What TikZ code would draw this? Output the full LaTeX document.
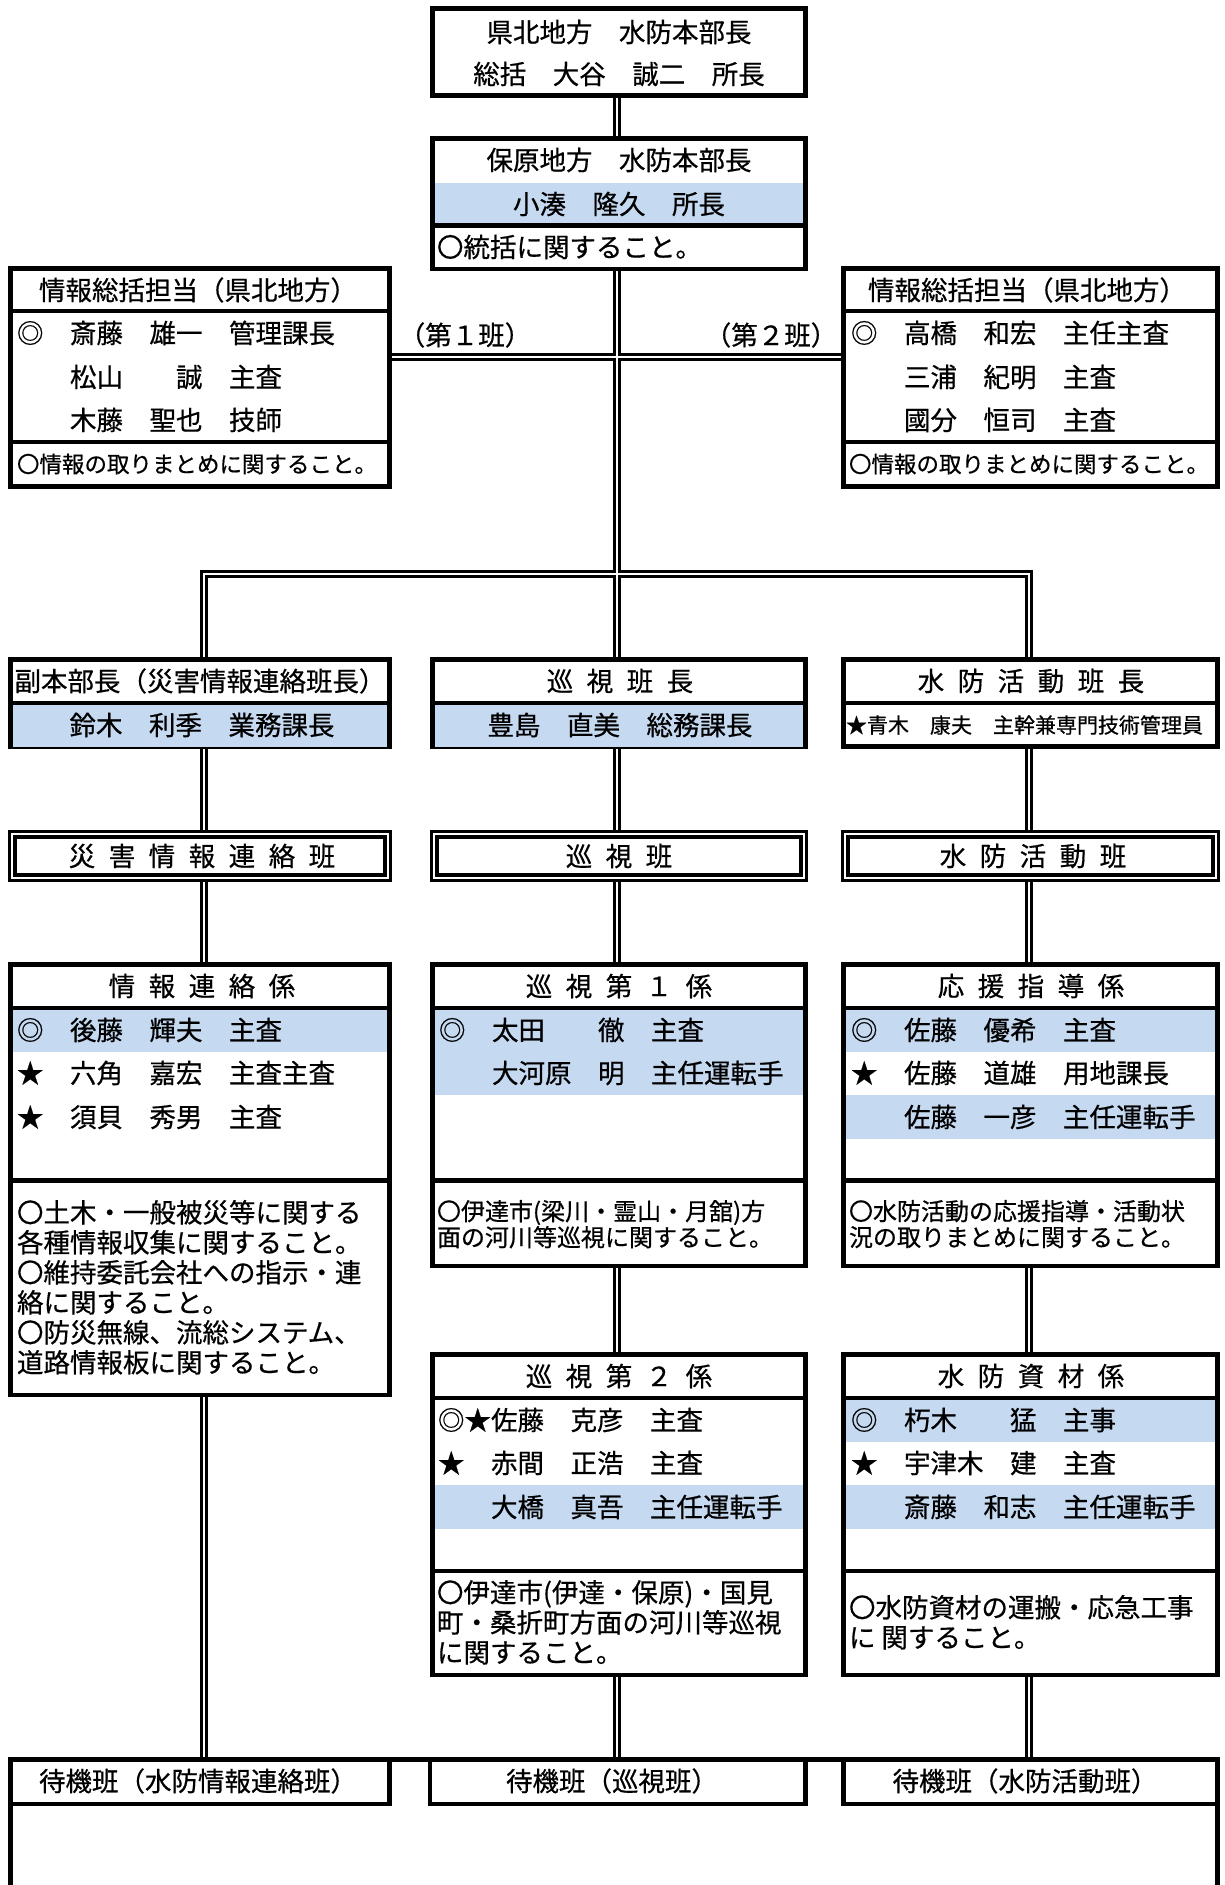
\documentclass[tikz,border=0pt]{standalone}
\usepackage{fontspec}
\setmainfont{Noto Sans CJK JP}[FakeBold=0.6]
\usetikzlibrary{calc}
\pgfdeclarelayer{bg}
\pgfsetlayers{bg,main}
\definecolor{cellblue}{RGB}{197,217,241}
\newcommand\gp{\hspace{13.5pt}}
\newcommand\fs[2]{\fontsize{#1}{#2}\selectfont}
\newcommand\mkbox[5]{\node[frame, minimum width={(#4-#2)*1pt}, minimum height={(#5-#3)*1pt}] (#1) at ({(#2+#4)/2},{(#3+#5)/2}) {};}
\newcommand\mkdbox[5]{\node[dframe, minimum width={(#4-#2)*1pt}, minimum height={(#5-#3)*1pt}] (#1) at ({(#2+#4)/2},{(#3+#5)/2}) {};}
\newcommand\bluerow[4]{\fill[cellblue] ({#1+2.25},#2) rectangle ({#3-2.25},#4);}
\begin{document}
\begin{tikzpicture}[x=1pt,y=-1pt,
  frame/.style={draw=black, line width=4.5pt, fill=white, rectangle, inner sep=0pt, outer sep=0pt},
  dframe/.style={draw=black, double=white, line width=3.2pt, double distance=2.3pt, fill=white, rectangle, inner sep=0pt, outer sep=0pt},
  txt/.style={inner sep=0pt, outer sep=0pt, font=\fs{26.5}{30}},
  lt/.style={txt, anchor=west},
  small/.style={font=\fs{22.5}{26}},
  para/.style={inner sep=0pt, outer sep=0pt, anchor=north west, align=left},
  sepl/.style={line width=4.5pt},
  conb/.style={line width=8.5pt, black},
  conw/.style={line width=2.5pt, white}]
\useasboundingbox (0,0) rectangle (1224,1885);

\coordinate (cL) at (204,0);
\coordinate (cM) at (617,0);
\coordinate (cR) at (1029,0);
\coordinate (cB) at (0,574);
\coordinate (cI) at (0,357);

% ---- top
\mkbox{top}{432.5}{8.5}{805.5}{95.5}
\node[txt] (t1) at (619,32) {県北地方　水防本部長};
\node[txt] (t2) at (619,74) {総括　大谷　誠二　所長};

% ---- box 2
\mkbox{hb}{432.5}{138.5}{805.5}{269}
\bluerow{432.5}{183}{805.5}{225.5}
\draw[sepl] (432.5,225.5) -- (805.5,225.5);
\node[txt] (hbt) at (619,160) {保原地方　水防本部長};
\node[txt] (hbn) at (619,204) {小湊　隆久　所長};
\node[lt] (hbd) at (437,247) {〇統括に関すること。};

% ---- info boxes
\mkbox{iL}{10.5}{268.5}{389.5}{486.5}
\draw[sepl] (10.5,311) -- (389.5,311) (10.5,442) -- (389.5,442);
\node[txt] (iLt) at (198,290) {情報総括担当（県北地方）};
\node[lt] (iL1) at (17,333) {◎　斎藤　雄一　管理課長};
\node[lt] (iL2) at (17,377) {　　松山　　誠　主査};
\node[lt] (iL3) at (17,420) {　　木藤　聖也　技師};
\node[lt,small] (iLd) at (17,464) {〇情報の取りまとめに関すること。};

\mkbox{iR}{843.5}{268.5}{1217.5}{486.5}
\draw[sepl] (843.5,311) -- (1217.5,311) (843.5,442) -- (1217.5,442);
\node[txt] (iRt) at (1027,290) {情報総括担当（県北地方）};
\node[lt] (iR1) at (851,333) {◎　高橋　和宏　主任主査};
\node[lt] (iR2) at (851,377) {　　三浦　紀明　主査};
\node[lt] (iR3) at (851,420) {　　國分　恒司　主査};
\node[lt,small] (iRd) at (849,464) {〇情報の取りまとめに関すること。};

\node[txt] (lab1) at (465,335) {（第１班）};
\node[txt] (lab2) at (771,335) {（第２班）};

% ---- row 3
\mkbox{r3L}{10.5}{659.5}{389.5}{746.5}
\bluerow{10.5}{703}{389.5}{746.5}
\draw[sepl] (10.5,703) -- (389.5,703);
\node[txt] (r3Lt) at (200,681) {副本部長（災害情報連絡班長）};
\node[txt] (r3Ln) at (202,725) {鈴木　利季　業務課長};

\mkbox{r3M}{432.5}{659.5}{805.5}{746.5}
\bluerow{432.5}{703}{805.5}{746.5}
\draw[sepl] (432.5,703) -- (805.5,703);
\node[txt] (r3Mt) at (620,681) {巡\gp{}視\gp{}班\gp{}長};
\node[txt] (r3Mn) at (620,725) {豊島　直美　総務課長};

\mkbox{r3R}{843.5}{659.5}{1217.5}{746.5}
\draw[sepl] (843.5,703) -- (1217.5,703);
\node[txt] (r3Rt) at (1031,681) {水\gp{}防\gp{}活\gp{}動\gp{}班\gp{}長};
\node[lt,font=\fs{21}{24}] (r3Rn) at (846,725) {★青木　康夫　主幹兼専門技術管理員};

% ---- row 4
\mkdbox{r4L}{12.25}{834.25}{387.75}{877.75}
\node[txt] (r4Lt) at (202,856) {災\gp{}害\gp{}情\gp{}報\gp{}連\gp{}絡\gp{}班};
\mkdbox{r4M}{434.25}{834.25}{803.75}{877.75}
\node[txt] (r4Mt) at (619,856) {巡\gp{}視\gp{}班};
\mkdbox{r4R}{845.25}{834.25}{1215.75}{877.75}
\node[txt] (r4Rt) at (1033,856) {水\gp{}防\gp{}活\gp{}動\gp{}班};

% ---- row 5
\mkbox{r5L}{10.5}{964.5}{389.5}{1395}
\bluerow{10.5}{1008}{389.5}{1051.5}
\draw[sepl] (10.5,1008) -- (389.5,1008) (10.5,1180.5) -- (389.5,1180.5);
\node[txt] (r5Lt) at (202,986) {情\gp{}報\gp{}連\gp{}絡\gp{}係};
\node[lt] (r5L1) at (17,1030) {◎　後藤　輝夫　主査};
\node[lt] (r5L2) at (17,1073) {★　六角　嘉宏　主査主査};
\node[lt] (r5L3) at (17,1117) {★　須貝　秀男　主査};
\node[para,font=\fs{26.5}{30}] (r5Ld) at (17,1200) {〇土木・一般被災等に関する\\各種情報収集に関すること。\\〇維持委託会社への指示・連\\絡に関すること。\\〇防災無線、流総システム、\\道路情報板に関すること。};

\mkbox{r5M}{432.5}{964.5}{805.5}{1266}
\bluerow{432.5}{1008}{805.5}{1095}
\draw[sepl] (432.5,1008) -- (805.5,1008) (432.5,1180.5) -- (805.5,1180.5);
\node[txt] (r5Mt) at (619,986) {巡\gp{}視\gp{}第\gp{}１\gp{}係};
\node[lt] (r5M1) at (439,1030) {◎　太田　　徹　主査};
\node[lt] (r5M2) at (439,1073) {　　大河原　明　主任運転手};
\node[para,font=\fs{24}{26}] (r5Md) at (437,1200) {〇伊達市(梁川・霊山・月舘)方\\面の河川等巡視に関すること。};

\mkbox{r5R}{843.5}{964.5}{1217.5}{1266}
\bluerow{843.5}{1008}{1217.5}{1051.5}
\bluerow{843.5}{1095}{1217.5}{1138.5}
\draw[sepl] (843.5,1008) -- (1217.5,1008) (843.5,1180.5) -- (1217.5,1180.5);
\node[txt] (r5Rt) at (1031,986) {応\gp{}援\gp{}指\gp{}導\gp{}係};
\node[lt] (r5R1) at (851,1030) {◎　佐藤　優希　主査};
\node[lt] (r5R2) at (851,1073) {★　佐藤　道雄　用地課長};
\node[lt] (r5R3) at (851,1117) {　　佐藤　一彦　主任運転手};
\node[para,font=\fs{24}{26}] (r5Rd) at (849,1200) {〇水防活動の応援指導・活動状\\況の取りまとめに関すること。};

% ---- row 6
\mkbox{r6M}{432.5}{1354.5}{805.5}{1675}
\bluerow{432.5}{1485}{805.5}{1528.5}
\draw[sepl] (432.5,1398) -- (805.5,1398) (432.5,1571) -- (805.5,1571);
\node[txt] (r6Mt) at (619,1376) {巡\gp{}視\gp{}第\gp{}２\gp{}係};
\node[lt] (r6M1) at (438,1420) {◎★佐藤　克彦　主査};
\node[lt] (r6M2) at (438,1463) {★　赤間　正浩　主査};
\node[lt] (r6M3) at (438,1507) {　　大橋　真吾　主任運転手};
\node[para,font=\fs{26.5}{30}] (r6Md) at (437,1580) {〇伊達市(伊達・保原)・国見\\町・桑折町方面の河川等巡視\\に関すること。};

\mkbox{r6R}{843.5}{1354.5}{1217.5}{1675}
\bluerow{843.5}{1398}{1217.5}{1441.5}
\bluerow{843.5}{1485}{1217.5}{1528.5}
\draw[sepl] (843.5,1398) -- (1217.5,1398) (843.5,1571) -- (1217.5,1571);
\node[txt] (r6Rt) at (1031,1376) {水\gp{}防\gp{}資\gp{}材\gp{}係};
\node[lt] (r6R1) at (851,1420) {◎　朽木　　猛　主事};
\node[lt] (r6R2) at (851,1463) {★　宇津木　建　主査};
\node[lt] (r6R3) at (851,1507) {　　斎藤　和志　主任運転手};
\node[para,font=\fs{26.5}{30}] (r6Rd) at (849,1595) {〇水防資材の運搬・応急工事\\に 関すること。};

% ---- bottom
\mkbox{bBig}{10.5}{1759.5}{1217.5}{1930}
\mkbox{bL}{10.5}{1759.5}{389.5}{1804}
\mkbox{bM}{430}{1759.5}{805.5}{1804}
\mkbox{bR}{843.5}{1759.5}{1217.5}{1804}
\node[txt] (bLt) at (198,1781) {待機班（水防情報連絡班）};
\node[txt] (bMt) at (612,1781) {待機班（巡視班）};
\node[txt] (bRt) at (1025,1781) {待機班（水防活動班）};

% ---- connectors (double lines)
\def\conpaths{(top.south -| cM) -- (hb.north -| cM)
  (hb.south -| cM) -- (r3M.north -| cM)
  (r3L.north -| cL) -- (cL |- cB) -- (cR |- cB) -- (r3R.north -| cR)
  (iL.east |- cI) -- (iR.west |- cI)
  (r3L.south -| cL) -- (r4L.north -| cL)
  (r3M.south -| cM) -- (r4M.north -| cM)
  (r3R.south -| cR) -- (r4R.north -| cR)
  (r4L.south -| cL) -- (r5L.north -| cL)
  (r4M.south -| cM) -- (r5M.north -| cM)
  (r4R.south -| cR) -- (r5R.north -| cR)
  (r5M.south -| cM) -- (r6M.north -| cM)
  (r5R.south -| cR) -- (r6R.north -| cR)
  (r5L.south -| cL) -- (bL.north -| cL)
  (r6M.south -| cM) -- (bM.north -| cM)
  (r6R.south -| cR) -- (bR.north -| cR)}
\begin{pgfonlayer}{bg}
\fill[white] (0,0) rectangle (1224,1885);
\draw[conb] \conpaths;
\draw[conw] \conpaths;
\end{pgfonlayer}
\end{tikzpicture}
\end{document}
